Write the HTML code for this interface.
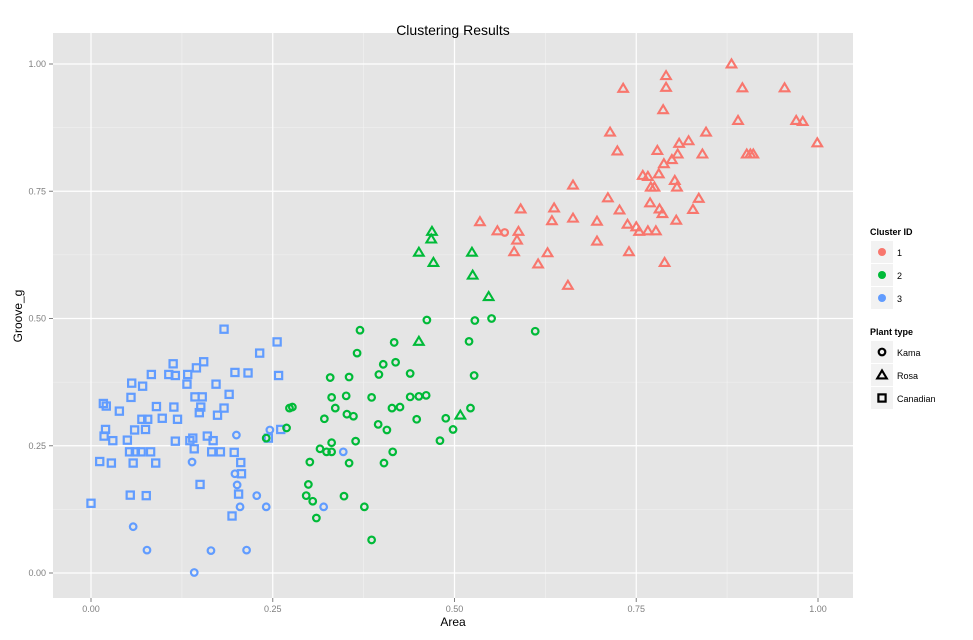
<!DOCTYPE html>
<html><head><meta charset="utf-8"><style>
html,body{margin:0;padding:0;background:#fff;}
svg{display:block;font-family:"Liberation Sans",Arial,sans-serif;}
</style></head><body>
<svg id="chart" width="973" height="640" viewBox="0 0 973 640" xmlns="http://www.w3.org/2000/svg">
<rect x="53" y="33" width="800" height="565" fill="#e5e5e5"/>
<g id="grid"></g>
<g id="points"></g>
<g id="axes"></g>
<text x="453" y="35" text-anchor="middle" font-size="14" fill="#000">Clustering Results</text>
<text x="453" y="626" text-anchor="middle" font-size="12" fill="#000">Area</text>
<text transform="translate(22,316) rotate(-90)" text-anchor="middle" font-size="12" fill="#000">Groove_g</text>
<g id="legend"></g>
</svg>
<script>
// cluster 3 squares (Canadian)
const bsqX=[0.183,0.256,0.232,0.113,0.155,0.145,0.083,0.107,0.116,0.133,0.198,0.216,0.258,0.056,0.071,0.132,0.172,0.055,0.143,0.153,0.190,0.017,0.021,0.039,0.090,0.114,0.151,0.183,0.149,0.174,0.070,0.078,0.098,0.119,0.020,0.060,0.075,0.261,0.018,0.030,0.050,0.116,0.140,0.136,0.160,0.168,0.244,0.142,0.053,0.061,0.069,0.082,0.166,0.178,0.197,0.012,0.028,0.058,0.089,0.206,0.207,0.150,0.203,0.054,0.076,0.000,0.194];
const bsqY=[0.479,0.454,0.432,0.411,0.415,0.403,0.390,0.390,0.388,0.390,0.394,0.393,0.388,0.373,0.367,0.371,0.371,0.345,0.346,0.346,0.351,0.333,0.328,0.318,0.327,0.326,0.326,0.324,0.315,0.310,0.302,0.302,0.304,0.302,0.282,0.281,0.282,0.282,0.269,0.260,0.261,0.259,0.265,0.260,0.269,0.260,0.265,0.244,0.238,0.238,0.238,0.238,0.238,0.238,0.237,0.219,0.216,0.216,0.216,0.217,0.195,0.174,0.155,0.153,0.152,0.137,0.112];
// cluster 3 circles (Kama)
const bciX=[0.200,0.246,0.139,0.198,0.201,0.228,0.205,0.241,0.058,0.077,0.165,0.214,0.142,0.347,0.320];
const bciY=[0.271,0.281,0.218,0.195,0.173,0.152,0.130,0.130,0.091,0.045,0.044,0.045,0.001,0.238,0.130];
// cluster 2 circles (Kama)
const gciX=[0.329,0.355,0.331,0.351,0.336,0.321,0.352,0.273,0.277,0.269,0.241,0.331,0.315,0.324,0.331,0.301,0.355,0.299,0.296,0.305,0.348,0.310,0.462,0.528,0.551,0.611,0.370,0.417,0.520,0.366,0.402,0.419,0.396,0.439,0.527,0.386,0.439,0.451,0.461,0.414,0.425,0.522,0.361,0.395,0.407,0.448,0.488,0.498,0.480,0.364,0.415,0.403,0.376,0.386];
const gciY=[0.384,0.385,0.345,0.348,0.324,0.303,0.312,0.324,0.326,0.285,0.265,0.256,0.244,0.238,0.238,0.218,0.216,0.174,0.152,0.141,0.151,0.108,0.497,0.496,0.500,0.475,0.477,0.453,0.455,0.432,0.410,0.414,0.390,0.392,0.388,0.345,0.346,0.347,0.349,0.324,0.326,0.324,0.308,0.292,0.281,0.302,0.304,0.282,0.260,0.259,0.238,0.216,0.130,0.065];
// cluster 2 triangles (Rosa)
const gtrX=[0.469,0.468,0.451,0.471,0.524,0.525,0.547,0.451,0.508];
const gtrY=[0.671,0.656,0.630,0.610,0.630,0.585,0.543,0.455,0.310];
// cluster 1 triangles (Rosa)
const rtrX=[0.881,0.791,0.791,0.732,0.896,0.954,0.787,0.890,0.970,0.979,0.714,0.846,0.999,0.809,0.822,0.724,0.779,0.807,0.841,0.902,0.907,0.911,0.799,0.788,0.781,0.759,0.766,0.803,0.806,0.770,0.775,0.663,0.711,0.836,0.769,0.591,0.637,0.727,0.782,0.786,0.828,0.634,0.663,0.696,0.805,0.738,0.750,0.754,0.766,0.777,0.535,0.559,0.588,0.586,0.582,0.628,0.696,0.740,0.615,0.789,0.656];
const rtrY=[1.000,0.977,0.954,0.952,0.953,0.953,0.910,0.889,0.889,0.887,0.866,0.866,0.845,0.844,0.849,0.829,0.830,0.823,0.823,0.823,0.823,0.823,0.812,0.804,0.784,0.781,0.779,0.771,0.758,0.758,0.758,0.762,0.737,0.736,0.727,0.715,0.717,0.713,0.715,0.706,0.714,0.692,0.697,0.691,0.693,0.685,0.680,0.671,0.672,0.672,0.690,0.672,0.671,0.654,0.631,0.629,0.652,0.631,0.607,0.610,0.565];
// cluster 1 circles (Kama)
const rciX=[0.569];
const rciY=[0.669];
const ticks=[0,0.25,0.5,0.75,1];
const tickLabels=["0.00","0.25","0.50","0.75","1.00"];

const NS="http://www.w3.org/2000/svg";
const X0=53,X1=853,Y0=33,Y1=598;
function sx(v){return 91+v*727;}
function sy(v){return 573-v*509;}
function mk(tag,attrs,parent){const e=document.createElementNS(NS,tag);for(const k in attrs)e.setAttribute(k,attrs[k]);parent.appendChild(e);return e;}
const grid=document.getElementById('grid');
for(let i=0;i<ticks.length-1;i++){
  const m=(ticks[i]+ticks[i+1])/2;
  const a=mk('line',{x1:sx(m),x2:sx(m),y1:Y0,y2:Y1,stroke:'#f2f2f2','stroke-width':0.6},grid);
  
  
  const b=mk('line',{x1:X0,x2:X1,y1:sy(m),y2:sy(m),stroke:'#f2f2f2','stroke-width':0.6},grid);
  
  
}
const axes=document.getElementById('axes');
ticks.forEach((t,i)=>{
  const a=mk('line',{x1:sx(t),x2:sx(t),y1:Y0,y2:Y1,stroke:'#fff','stroke-width':1.2},grid);
  
  
  const b=mk('line',{x1:X0,x2:X1,y1:sy(t),y2:sy(t),stroke:'#fff','stroke-width':1.2},grid);
  
  
  const tx=mk('line',{x1:sx(t),x2:sx(t),y1:Y1,y2:Y1+4,stroke:'#7f7f7f','stroke-width':1},axes);
  
  
  const ty=mk('line',{x1:X0-4,x2:X0,y1:sy(t),y2:sy(t),stroke:'#7f7f7f','stroke-width':1},axes);
  
  
  const lx=mk('text',{x:sx(t),y:Y1+14,'text-anchor':'middle','font-size':9,fill:'#7f7f7f'},axes);
  lx.textContent=tickLabels[i];
  
  
  const ly=mk('text',{x:X0-7,y:sy(t)+3,'text-anchor':'end','font-size':9,fill:'#7f7f7f'},axes);
  ly.textContent=tickLabels[i];
  
  
});
const RED='#F8766D',GRN='#00BA38',BLU='#619CFF';
function shape(kind,cx,cy,col,parent){
  let e;
  if(kind==='circle') e=mk('circle',{cx:cx,cy:cy,r:3.3,fill:'none',stroke:col,'stroke-width':2.2},parent);
  else if(kind==='square') e=mk('rect',{x:cx-3.6,y:cy-3.6,width:7.2,height:7.2,fill:'none',stroke:col,'stroke-width':2.2},parent);
  else e=mk('polygon',{points:`${cx},${cy-4.6} ${cx+4.8},${cy+3.4} ${cx-4.8},${cy+3.4}`,fill:'none',stroke:col,'stroke-width':2.1,'stroke-linejoin':'miter'},parent);
  return e;
}
const pts=document.getElementById('points');
function series(xs,ys,kind,col,name){
  xs.forEach((v,i)=>{
    const e=shape(kind,sx(v),sy(ys[i]),col,pts);
    
    
  });
}
series(bsqX,bsqY,'square',BLU,'point-cluster3-canadian');
series(bciX,bciY,'circle',BLU,'point-cluster3-kama');
series(gciX,gciY,'circle',GRN,'point-cluster2-kama');
series(gtrX,gtrY,'triangle',GRN,'point-cluster2-rosa');
series(rtrX,rtrY,'triangle',RED,'point-cluster1-rosa');
series(rciX,rciY,'circle',RED,'point-cluster1-kama');

const lg=document.getElementById('legend');
const t1=mk('text',{x:870,y:235,'font-size':9,'font-weight':'bold',fill:'#000'},lg);
t1.textContent='Cluster ID';


const clusters=[['1',RED],['2',GRN],['3',BLU]];
clusters.forEach((c,i)=>{
  const y=241+i*23;
  const k=mk('rect',{x:871,y:y,width:22,height:22,fill:'#f2f2f2'},lg);
  
  
  const d=mk('circle',{cx:882,cy:y+11,r:4,fill:c[1]},lg);
  
  
  const t=mk('text',{x:897,y:y+15,'font-size':9,fill:'#000'},lg);
  t.textContent=c[0];
  
  
});
const t2=mk('text',{x:870,y:335,'font-size':9,'font-weight':'bold',fill:'#000'},lg);
t2.textContent='Plant type';


const types=[['Kama','circle'],['Rosa','triangle'],['Canadian','square']];
types.forEach((c,i)=>{
  const y=341+i*23;
  const k=mk('rect',{x:871,y:y,width:22,height:22,fill:'#f2f2f2'},lg);
  
  
  const s=shape(c[1],882,y+11,'#000',lg);
  
  
  const t=mk('text',{x:897,y:y+15,'font-size':9,fill:'#000'},lg);
  t.textContent=c[0];
  
  
});
</script>
</body></html>
